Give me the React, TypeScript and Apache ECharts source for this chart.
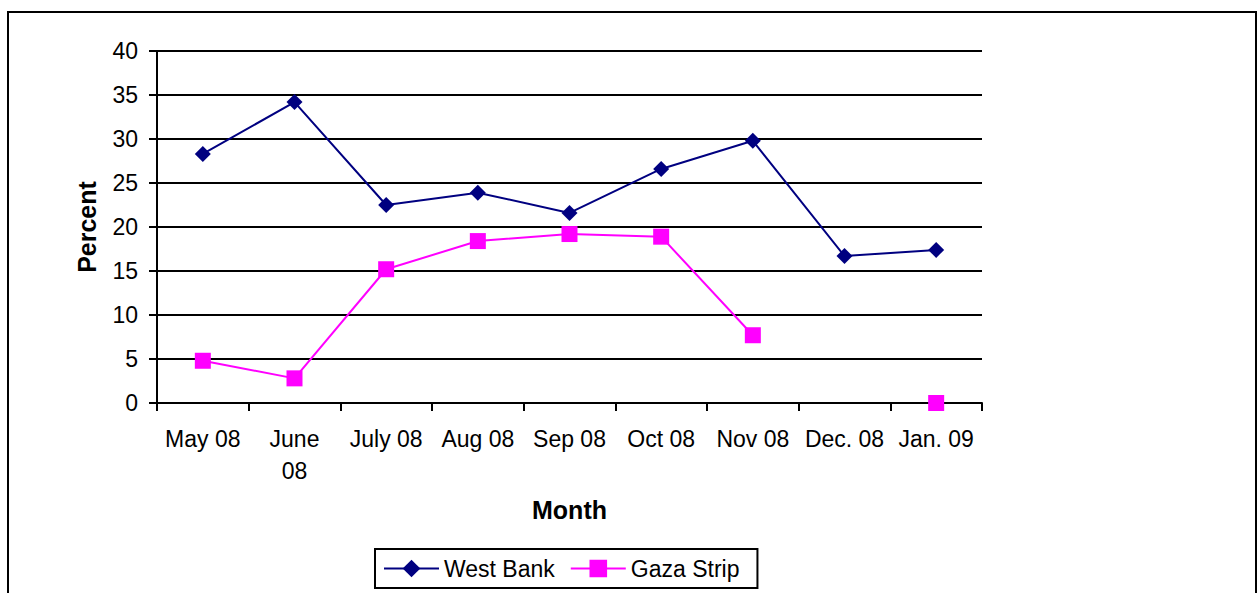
import React, { useEffect, useRef } from "react";
import * as echarts from "echarts";

const months = ["May 08", "June 08", "July 08", "Aug 08", "Sep 08", "Oct 08", "Nov 08", "Dec. 08", "Jan. 09"];
const westBank = [28.3, 34.2, 22.5, 23.9, 21.6, 26.6, 29.8, 16.7, 17.4];
const gazaStrip: (number | null)[] = [4.8, 2.8, 15.2, 18.4, 19.2, 18.9, 7.7, null, 0];
const yTicks = { min: 0, max: 40, interval: 5 };

const FONT = "'Liberation Sans', Arial, sans-serif";

export default function App() {
  const ref = useRef<HTMLDivElement>(null);
  useEffect(() => {
    if (!ref.current) return;
    const chart = echarts.init(ref.current, undefined, { renderer: "svg" });
    chart.setOption({
      animation: false,
      backgroundColor: "#ffffff",
      textStyle: { fontFamily: FONT, color: "#000" },
      graphic: [
        {
          type: "rect",
          shape: { x: 8, y: 12, width: 1248, height: 600 },
          style: { fill: "none", stroke: "#000", lineWidth: 2 },
          silent: true,
          z: -1,
        },
      ],
      grid: { left: 157, right: 276, top: 51, bottom: 190 },
      legend: {
        left: 375,
        top: 549,
        orient: "horizontal",
        borderColor: "#000",
        borderWidth: 2,
        padding: [8, 18, 8, 8],
        itemWidth: 55,
        itemHeight: 22,
        itemGap: 15,
        itemStyle: { borderWidth: 0 },
        lineStyle: { width: 2 },
        textStyle: { fontSize: 23, fontFamily: FONT, color: "#000" },
        data: ["West Bank", "Gaza Strip"],
      },
      xAxis: {
        type: "category",
        data: months,
        boundaryGap: true,
        name: "Month",
        nameLocation: "middle",
        nameGap: 94,
        nameTextStyle: { fontSize: 25, fontWeight: "bold", fontFamily: FONT, color: "#000" },
        axisLine: { show: true, lineStyle: { color: "#000", width: 2 } },
        axisTick: { show: true, length: 8, alignWithLabel: false, lineStyle: { color: "#000", width: 2 } },
        axisLabel: {
          fontSize: 23,
          fontFamily: FONT,
          color: "#000",
          margin: 20,
          lineHeight: 32,
          interval: 0,
          formatter: (v: string) => (v === "June 08" ? "June\n08" : v),
        },
        splitLine: { show: false },
      },
      yAxis: {
        type: "value",
        min: yTicks.min,
        max: yTicks.max,
        interval: yTicks.interval,
        name: "Percent",
        nameLocation: "middle",
        nameGap: 58,
        nameRotate: 90,
        nameTextStyle: { fontSize: 25, fontWeight: "bold", fontFamily: FONT, color: "#000" },
        axisLine: { show: true, lineStyle: { color: "#000", width: 2 } },
        axisTick: { show: true, length: 8, lineStyle: { color: "#000", width: 2 } },
        axisLabel: { fontSize: 23, fontFamily: FONT, color: "#000", margin: 19 },
        splitLine: { show: true, lineStyle: { color: "#000", width: 2 } },
      },
      series: [
        {
          name: "West Bank",
          type: "line",
          data: westBank,
          symbol: "diamond",
          symbolSize: 16,
          itemStyle: { color: "#000080" },
          lineStyle: { color: "#000080", width: 2 },
        },
        {
          name: "Gaza Strip",
          type: "line",
          data: gazaStrip,
          connectNulls: false,
          symbol: "rect",
          symbolSize: 16,
          itemStyle: { color: "#FF00FF" },
          lineStyle: { color: "#FF00FF", width: 2 },
        },
      ],
    });
    return () => chart.dispose();
  }, []);
  return (
    <div
      ref={ref}
      style={{ position: "fixed", left: 0, top: 0, width: 1258, height: 593 }}
    />
  );
}
